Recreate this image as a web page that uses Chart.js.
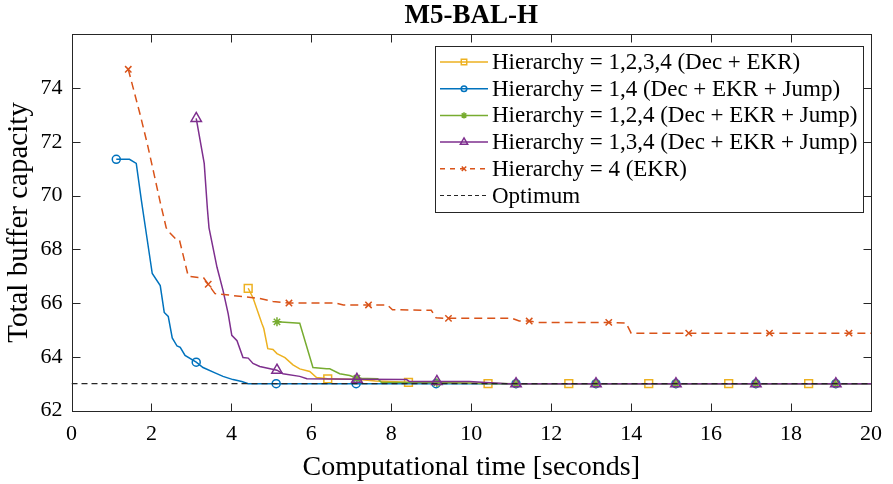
<!DOCTYPE html>
<html>
<head>
<meta charset="utf-8">
<script src="https://cdn.jsdelivr.net/npm/chart.js@4.4.0/dist/chart.umd.min.js"></script>
<style>
  html, body { margin: 0; padding: 0; background: #fff; }
</style>
</head>
<body>
<canvas id="mycanvas" width="893" height="484"></canvas>
<script>
// ---- data ----
var xTicks = [0, 2, 4, 6, 8, 10, 12, 14, 16, 18, 20];
var yTicks = [62, 64, 66, 68, 70, 72, 74];

var names = [
  'Hierarchy = 1,2,3,4 (Dec + EKR)',
  'Hierarchy = 1,4 (Dec + EKR + Jump)',
  'Hierarchy = 1,2,4 (Dec + EKR + Jump)',
  'Hierarchy = 1,3,4 (Dec + EKR + Jump)',
  'Hierarchy = 4 (EKR)',
  'Optimum'
];

// Hierarchy = 1,2,3,4
var h1234X = [4.42, 4.54, 4.76, 4.81, 4.91, 5.04, 5.14, 5.34, 5.54, 5.71, 5.96, 6.13, 6.41, 7.2, 7.6, 8.43, 9.5, 10.42, 12.44, 14.44, 16.44, 18.44, 20];
var h1234Y = [66.55, 66.2, 65.25, 65.05, 64.3, 64.27, 64.12, 63.97, 63.7, 63.55, 63.45, 63.23, 63.18, 63.15, 63.1, 63.05, 63.03, 63.0, 63.0, 63.0, 63.0, 63.0, 63.0];
var h1234M = [4.42, 6.41, 8.43, 10.42, 12.44, 14.44, 16.44, 18.44];

// Hierarchy = 1,4
var h14X = [1.12, 1.45, 1.62, 1.75, 1.82, 2.02, 2.22, 2.32, 2.42, 2.52, 2.64, 2.72, 2.84, 3.12, 3.29, 3.59, 3.79, 4.04, 4.26, 4.42, 5.12, 7.12, 9.12, 11.12, 13.12, 15.12, 17.12, 19.12, 20];
var h14Y = [71.35, 71.35, 71.2, 69.8, 69.1, 67.1, 66.65, 65.65, 65.5, 64.7, 64.4, 64.35, 64.05, 63.8, 63.6, 63.4, 63.27, 63.15, 63.08, 63.0, 63.0, 63.0, 63.0, 63.0, 63.0, 63.0, 63.0, 63.0, 63.0];
var h14M = [1.12, 3.12, 5.12, 7.12, 9.12, 11.12, 13.12, 15.12, 17.12, 19.12];

// Hierarchy = 1,2,4
var h124X = [5.14, 5.71, 6.04, 6.38, 6.46, 6.71, 6.96, 7.14, 7.66, 7.75, 9.14, 11.12, 13.12, 15.12, 17.12, 19.12, 20];
var h124Y = [65.3, 65.25, 63.6, 63.55, 63.55, 63.37, 63.3, 63.2, 63.18, 63.05, 63.03, 63.0, 63.0, 63.0, 63.0, 63.0, 63.0];
var h124M = [5.14, 7.14, 9.14, 11.12, 13.12, 15.12, 17.12, 19.12];

// Hierarchy = 1,3,4
var h134X = [3.12, 3.32, 3.4, 3.44, 3.64, 3.79, 3.92, 4.01, 4.14, 4.29, 4.42, 4.54, 4.71, 5.14, 5.29, 5.71, 5.89, 7.14, 8.38, 8.45, 9.14, 9.95, 10.9, 11.12, 13.12, 15.12, 17.12, 19.12, 20];
var h134Y = [72.87, 71.2, 69.5, 68.8, 67.33, 66.47, 65.6, 64.8, 64.6, 63.97, 63.95, 63.75, 63.64, 63.5, 63.37, 63.27, 63.18, 63.16, 63.15, 63.08, 63.08, 63.08, 63.0, 63.0, 63.0, 63.0, 63.0, 63.0, 63.0];
var h134M = [3.12, 5.14, 7.14, 9.14, 11.12, 13.12, 15.12, 17.12, 19.12];

// Hierarchy = 4 (EKR)
var h4X = [1.42, 1.72, 1.9, 2.05, 2.22, 2.37, 2.47, 2.6, 2.7, 2.79, 2.92, 3.17, 3.3, 3.42, 3.59, 4.04, 4.54, 4.71, 5.04, 5.44, 6.6, 6.8, 7.43, 7.9, 8.03, 9.0, 9.12, 9.43, 11.02, 11.2, 11.45, 11.65, 13.44, 13.87, 14.0, 15.44, 17.46, 19.45, 20];
var h4Y = [74.7, 73.0, 71.9, 70.9, 69.75, 68.8, 68.6, 68.4, 68.35, 67.8, 67.0, 66.95, 66.95, 66.7, 66.35, 66.28, 66.2, 66.17, 66.06, 66.0, 66.0, 65.93, 65.93, 65.93, 65.75, 65.73, 65.45, 65.43, 65.43, 65.33, 65.33, 65.28, 65.28, 65.26, 64.88, 64.88, 64.88, 64.88, 64.88];
var h4M = [1.42, 3.42, 5.44, 7.43, 9.43, 11.45, 13.44, 15.44, 17.46, 19.45];

var optX = [0, 20];
var optY = [63, 63];

// ---- styles ----
var colors = ['#EDB120', '#0072BD', '#77AC30', '#7E2F8E', '#D95319', '#262626'];
var marks = ['rect', 'circle', 'star', 'triangle', 'crossRot', false];
var radii = [5.5, 4, 4.5, 6, 4.5, 0];
var FONT = "'Liberation Serif', 'Times New Roman', serif";

function pts(xs, ys) {
  var out = [];
  for (var i = 0; i < xs.length; i++) out.push({ x: xs[i], y: ys[i] });
  return out;
}

function series(i, xs, ys, markAt, dash, width) {
  return {
    label: names[i],
    data: pts(xs, ys),
    borderColor: colors[i],
    borderWidth: width,
    borderDash: dash,
    pointStyle: marks[i],
    pointBorderColor: colors[i],
    pointBackgroundColor: 'rgba(0,0,0,0)',
    pointBorderWidth: 1.5,
    pointRadius: function (c) {
      return markAt.indexOf(c.raw.x) >= 0 ? radii[i] : 0;
    },
    tension: 0,
    fill: false,
    order: 6 - i
  };
}

var datasets = [
  series(0, h1234X, h1234Y, h1234M, [], 1.5),
  series(1, h14X, h14Y, h14M, [], 1.5),
  series(2, h124X, h124Y, h124M, [], 1.5),
  series(3, h134X, h134Y, h134M, [], 1.5),
  series(4, h4X, h4Y, h4M, [8, 5], 1.5),
  series(5, optX, optY, [], [6, 4], 1.2)
];

// frame with inward ticks, MATLAB style
var framePlugin = {
  id: 'frame',
  afterDatasetsDraw: function (chart) {
    var ctx = chart.ctx, a = chart.chartArea;
    var xs = chart.scales.x, ys = chart.scales.y;
    var L = Math.round(a.left) + 0.5, R = Math.round(a.right) + 0.5;
    var T = Math.round(a.top) + 0.5, B = Math.round(a.bottom) + 0.5;
    ctx.save();
    ctx.strokeStyle = '#262626';
    ctx.lineWidth = 1;
    ctx.setLineDash([]);
    ctx.strokeRect(L, T, R - L, B - T);
    ctx.beginPath();
    xTicks.forEach(function (v) {
      var p = Math.round(xs.getPixelForValue(v)) + 0.5;
      ctx.moveTo(p, B); ctx.lineTo(p, B - 8);
      ctx.moveTo(p, T); ctx.lineTo(p, T + 8);
    });
    yTicks.forEach(function (v) {
      var p = Math.round(ys.getPixelForValue(v)) + 0.5;
      ctx.moveTo(L, p); ctx.lineTo(L + 8, p);
      ctx.moveTo(R, p); ctx.lineTo(R - 8, p);
    });
    ctx.stroke();
    ctx.restore();
  }
};

function drawMark(ctx, style, r, x, y) {
  if (!style) return;
  Chart.helpers.drawPoint(ctx, { pointStyle: style, radius: r, rotation: 0, borderWidth: 1.5 }, x, y);
}

// legend box drawn inside the axes (north-east)
var legendPlugin = {
  id: 'boxLegend',
  afterDraw: function (chart) {
    var ctx = chart.ctx, a = chart.chartArea;
    ctx.save();
    ctx.font = '23px ' + FONT;
    var w = 0;
    names.forEach(function (n) { w = Math.max(w, ctx.measureText(n).width); });
    var boxW = Math.round(w + 63), rowH = 26.7;
    var boxH = Math.round(rowH * names.length + 6);
    var right = Math.round(a.right) - 8, top = Math.round(a.top) + 12;
    var left = right - boxW;
    ctx.fillStyle = '#fff';
    ctx.fillRect(left, top, boxW, boxH);
    ctx.strokeStyle = '#262626';
    ctx.lineWidth = 1;
    ctx.strokeRect(left + 0.5, top + 0.5, boxW, boxH);
    names.forEach(function (n, i) {
      var d = datasets[i];
      var y = top + 16 + i * rowH;
      ctx.strokeStyle = colors[i];
      ctx.lineWidth = d.borderWidth;
      ctx.setLineDash(i === 4 ? [5, 5] : (i === 5 ? [4, 3] : []));
      ctx.beginPath();
      ctx.moveTo(left + 5, y);
      ctx.lineTo(left + 53, y);
      ctx.stroke();
      ctx.setLineDash([]);
      ctx.fillStyle = 'rgba(0,0,0,0)';
      drawMark(ctx, marks[i], radii[i] * 0.7, left + 29, y);
      ctx.fillStyle = '#000';
      ctx.textBaseline = 'middle';
      ctx.textAlign = 'left';
      ctx.fillText(n, left + 57, y + 1);
    });
    ctx.restore();
  }
};

var ctx = document.getElementById('mycanvas');
var chart = new Chart(ctx, {
  type: 'line',
  data: { datasets: datasets },
  options: {
    responsive: false,
    animation: false,
    events: [],
    layout: { padding: { right: 17, left: 0, top: 0, bottom: 0 } },
    plugins: {
      legend: { display: false },
      tooltip: { enabled: false },
      title: {
        display: true,
        text: 'M5-BAL-H',
        fullSize: false,
        color: '#000',
        font: { family: FONT, size: 27, weight: 'bold' },
        padding: { top: 0, bottom: 2 }
      }
    },
    scales: {
      x: {
        type: 'linear',
        min: 0,
        max: 20,
        afterBuildTicks: function (s) { s.ticks = xTicks.map(function (v) { return { value: v }; }); },
        afterFit: function (s) { s.height = 73.5; },
        grid: { display: false, drawTicks: false, tickLength: 0 },
        border: { display: false },
        ticks: { color: '#000', padding: 11, maxRotation: 0, font: { family: FONT, size: 22 } },
        title: {
          display: true,
          text: 'Computational time [seconds]',
          color: '#000',
          font: { family: FONT, size: 28 },
          padding: { top: 0, bottom: 0 }
        }
      },
      y: {
        type: 'linear',
        min: 62,
        max: 76,
        afterBuildTicks: function (s) { s.ticks = yTicks.map(function (v) { return { value: v }; }); },
        afterFit: function (s) { s.width = 71.5; },
        grid: { display: false, drawTicks: false, tickLength: 0 },
        border: { display: false },
        ticks: { color: '#000', padding: 9, font: { family: FONT, size: 22 } },
        title: {
          display: true,
          text: 'Total buffer capacity',
          color: '#000',
          font: { family: FONT, size: 29 },
          padding: { top: 2, bottom: 0 }
        }
      }
    }
  },
  plugins: [framePlugin, legendPlugin]
});
</script>
</body>
</html>
